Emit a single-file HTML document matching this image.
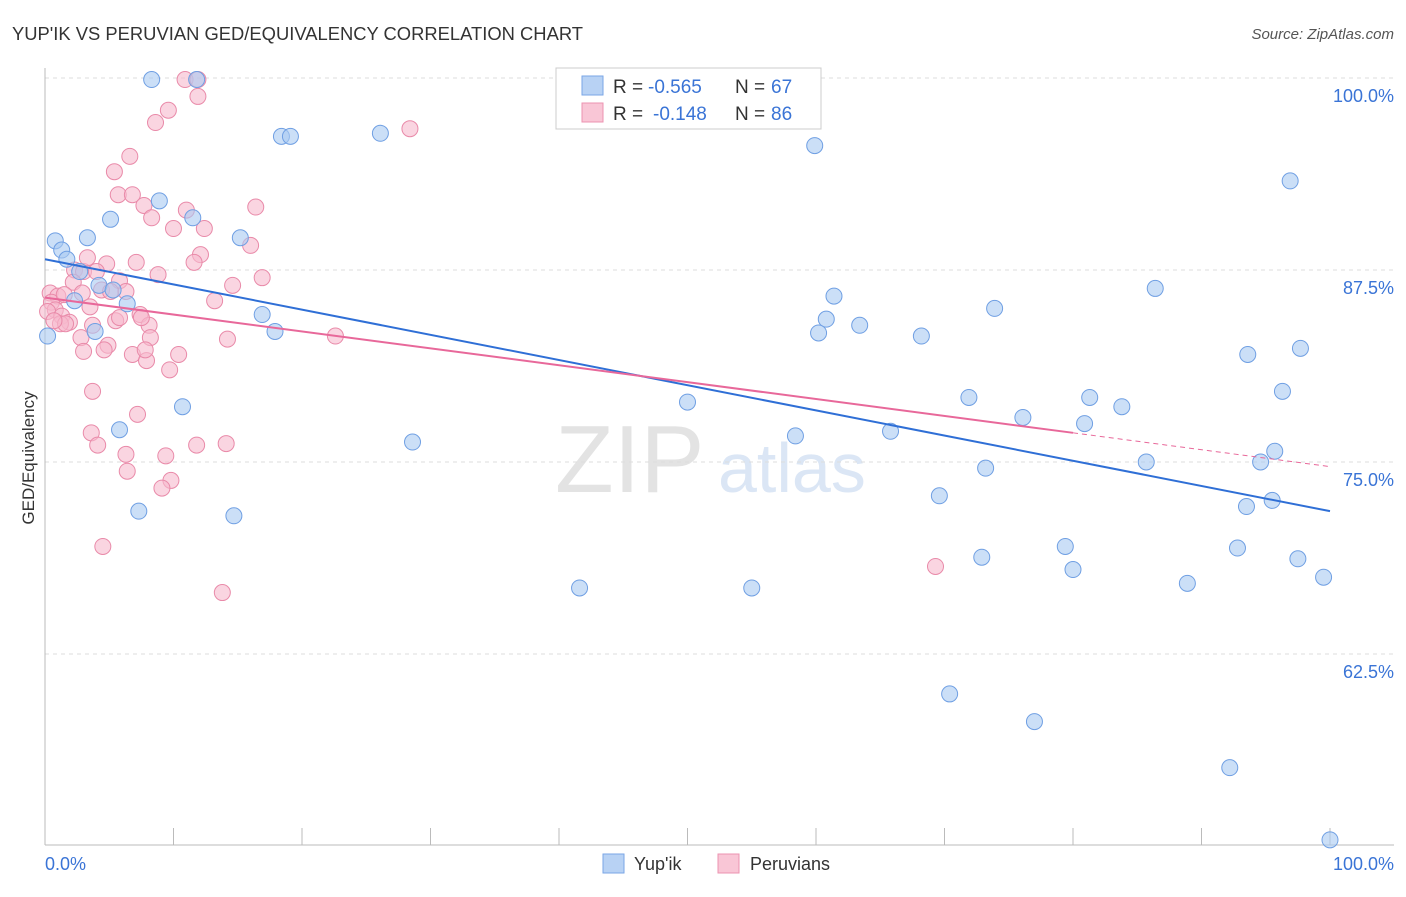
<!DOCTYPE html>
<html><head><meta charset="utf-8"><style>
body{margin:0;background:#fff;font-family:"Liberation Sans",sans-serif;}
svg text{font-family:"Liberation Sans",sans-serif;}
</style></head><body>
<svg id="chart" width="1406" height="892" xmlns="http://www.w3.org/2000/svg">
<text x="12" y="40" font-size="18" fill="#333" textLength="571" lengthAdjust="spacingAndGlyphs">YUP'IK VS PERUVIAN GED/EQUIVALENCY CORRELATION CHART</text>
<text x="1394" y="39" font-size="15" fill="#555" font-style="italic" text-anchor="end">Source: ZipAtlas.com</text>
<text transform="translate(34,458) rotate(-90)" font-size="17" fill="#333" text-anchor="middle">GED/Equivalency</text>
<g><text x="555" y="492" font-size="96" fill="#e3e3e3" font-family="Liberation Serif">ZIP</text><text x="718" y="492" font-size="70" fill="#dbe6f5">atlas</text></g>
<g id="grid"></g><g id="pink"></g><g id="blue"></g><g id="lines"></g>
<g>
<rect x="556" y="68" width="265" height="61" fill="#fff" stroke="#ccc"/>
<rect x="582" y="76" width="21" height="19" fill="#b8d2f4" stroke="#7aa6e6"/>
<rect x="582" y="103" width="21" height="19" fill="#f9c6d6" stroke="#ec93b0"/>
<text x="613" y="93" font-size="19" fill="#333">R =</text>
<text x="648" y="93" font-size="19" fill="#3a74d6">-0.565</text>
<text x="735" y="93" font-size="19" fill="#333">N =</text>
<text x="771" y="93" font-size="19" fill="#3a74d6">67</text>
<text x="613" y="120" font-size="19" fill="#333">R =</text>
<text x="653" y="120" font-size="19" fill="#3a74d6">-0.148</text>
<text x="735" y="120" font-size="19" fill="#333">N =</text>
<text x="771" y="120" font-size="19" fill="#3a74d6">86</text>
</g>
<g>
<rect x="603" y="854" width="21" height="19" fill="#b8d2f4" stroke="#7aa6e6"/><text x="634" y="870" font-size="18" fill="#333">Yup'ik</text>
<rect x="718" y="854" width="21" height="19" fill="#f9c6d6" stroke="#ec93b0"/><text x="750" y="870" font-size="18" fill="#333">Peruvians</text>
</g>
<text x="45" y="870" font-size="18" fill="#3a74d6">0.0%</text>
<text x="1394" y="870" font-size="18" fill="#3a74d6" text-anchor="end">100.0%</text>
</svg>
<script>
const yTicks=[100,87.5,75,62.5];
const yTickLabels=["100.0%","87.5%","75.0%","62.5%"];
const blueX=[8.3,11.8,18.4,19.1,26.1,59.9,96.9,8.9,5.1,11.5,0.8,1.3,3.3,15.2,1.7,2.7,4.2,5.3,6.4,2.3,3.9,0.2,16.9,17.9,61.4,60.8,60.2,63.4,68.2,73.9,86.4,93.6,97.7,96.3,71.9,76.1,81.3,80.9,83.8,10.7,5.8,28.6,50.0,58.4,65.8,73.2,85.7,94.6,95.7,69.6,93.5,95.5,7.3,14.7,79.4,72.9,92.8,97.5,80.0,88.9,99.5,41.6,55.0,70.4,77.0,92.2,100];
const blueY=[99.9,99.9,96.2,96.2,96.4,95.6,93.3,92.0,90.8,90.9,89.4,88.8,89.6,89.6,88.2,87.4,86.5,86.2,85.3,85.5,83.5,83.2,84.6,83.5,85.8,84.3,83.4,83.9,83.2,85.0,86.3,82.0,82.4,79.6,79.2,77.9,79.2,77.5,78.6,78.6,77.1,76.3,78.9,76.7,77.0,74.6,75.0,75.0,75.7,72.8,72.1,72.5,71.8,71.5,69.5,68.8,69.4,68.7,68.0,67.1,67.5,66.8,66.8,59.9,58.1,55.1,50.4];
const pinkX=[10.9,11.9,11.9,9.6,8.6,28.4,6.6,5.4,5.7,6.8,7.7,11.0,16.4,8.3,10.0,12.4,16.0,12.1,7.1,11.6,4.8,8.8,16.9,2.3,3.0,3.3,4.0,5.8,4.4,2.2,5.1,6.3,14.6,13.2,0.4,1.0,0.5,1.5,2.9,3.5,0.8,0.2,1.3,1.9,1.2,1.6,0.7,7.4,5.5,3.7,8.1,7.5,8.2,14.2,22.6,2.8,4.9,3.0,6.8,10.4,7.9,9.7,3.7,7.2,3.6,4.1,14.1,11.8,9.4,6.3,6.4,9.8,9.1,4.5,13.8,69.3,4.6,7.8,5.8];
const pinkY=[99.9,99.9,98.8,97.9,97.1,96.7,94.9,93.9,92.4,92.4,91.7,91.4,91.6,90.9,90.2,90.2,89.1,88.5,88.0,88.0,87.9,87.2,87.0,87.5,87.4,88.3,87.4,86.8,86.2,86.7,86.1,86.1,86.5,85.5,86.0,85.8,85.4,85.9,86.0,85.1,84.9,84.8,84.5,84.1,84.0,84.0,84.2,84.6,84.2,83.9,83.9,84.4,83.1,83.0,83.2,83.1,82.6,82.2,82.0,82.0,81.6,81.0,79.6,78.1,76.9,76.1,76.2,76.1,75.4,75.5,74.4,73.8,73.3,69.5,66.5,68.2,82.3,82.3,84.4];
const blueTrend=[88.2,71.8];
const pinkTrend=[85.7,74.7];
const pinkSolidEnd=80;
const NS="http://www.w3.org/2000/svg";
const X=v=>45+v*12.85;
const Y=v=>78+(100-v)*15.36;
function mk(tag,attrs,parent){const e=document.createElementNS(NS,tag);for(const k in attrs)e.setAttribute(k,attrs[k]);parent.appendChild(e);return e;}
const grid=document.getElementById('grid');
yTicks.forEach((t,i)=>{
 const l=mk('line',{x1:45,x2:1394,y1:Y(t),y2:Y(t),stroke:'#ddd','stroke-dasharray':'4,4'},grid);
 
 
 const tx=mk('text',{x:1394,y:Y(t)+24,'font-size':18,fill:'#3a74d6','text-anchor':'end'},grid);
 tx.textContent=yTickLabels[i];
 
 
});
const ax=mk('line',{x1:45,x2:1394,y1:845,y2:845,stroke:'#bbb'},grid);


const ay=mk('line',{x1:45,x2:45,y1:68,y2:845,stroke:'#bbb'},grid);


for(let i=0;i<=10;i++){const t=mk('line',{x1:X(i*10),x2:X(i*10),y1:828,y2:845,stroke:'#bbb'},grid);
 
 }
function pts(xs,ys,g,fill,stroke,name){const p=document.getElementById(g);
 xs.forEach((x,i)=>{const c=mk('circle',{cx:X(x),cy:Y(ys[i]),r:8,fill:fill,'fill-opacity':0.6,stroke:stroke,'stroke-width':1},p);
 
 });}
pts(pinkX,pinkY,'pink','#f7b9cd','#e98aa9','peruvian-point');
pts(blueX,blueY,'blue','#a9c9f1','#6f9fe3','yupik-point');
const lg=document.getElementById('lines');
const bl=mk('line',{x1:X(0),y1:Y(blueTrend[0]),x2:X(100),y2:Y(blueTrend[1]),stroke:'#2f6fd6','stroke-width':2},lg);


const pAt=x=>pinkTrend[0]+(pinkTrend[1]-pinkTrend[0])*x/100;
const pl=mk('line',{x1:X(0),y1:Y(pAt(0)),x2:X(pinkSolidEnd),y2:Y(pAt(pinkSolidEnd)),stroke:'#e8689a','stroke-width':2},lg);


const pd=mk('line',{x1:X(pinkSolidEnd),y1:Y(pAt(pinkSolidEnd)),x2:X(100),y2:Y(pAt(100)),stroke:'#e8689a','stroke-width':1,'stroke-dasharray':'5,4'},lg);


</script>
</body></html>
